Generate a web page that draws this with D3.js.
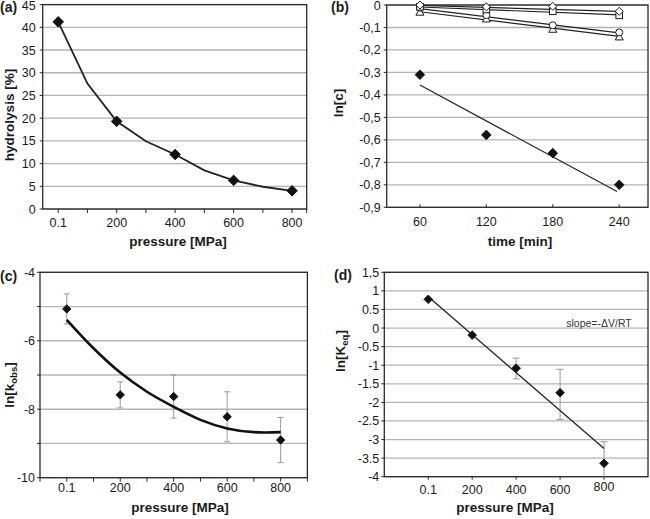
<!DOCTYPE html>
<html><head><meta charset="utf-8">
<script src="https://cdn.jsdelivr.net/npm/d3@7/dist/d3.min.js"></script>
<style>
body{margin:0;background:#fff;}
text{font-family:"Liberation Sans",Arial,sans-serif;}
</style></head>
<body><svg id="c" width="650" height="519"></svg>
<script>
// ---------- data ----------
const pressureTicks = [0, 200, 400, 600, 800];
const pressureLabels = ["0.1", "200", "400", "600", "800"];

// (a) hydrolysis
const aLineP = [0.1, 100, 200, 300, 400, 500, 600, 700, 800];
const aLineV = [41.2, 27.6, 19.3, 14.9, 12.0, 8.5, 6.3, 4.9, 4.0];
const aPointP = [0.1, 200, 400, 600, 800];
const aPointV = [41.2, 19.3, 12.0, 6.3, 4.0];
const aYTicks = [0, 5, 10, 15, 20, 25, 30, 35, 40, 45];

// (b) ln[c] vs time
const bTime = [60, 120, 180, 240];
const bTimeLabels = ["60", "120", "180", "240"];
const bFilled = [-0.31, -0.578, -0.659, -0.80];
const bFilledFitT = [60, 238];
const bFilledFitV = [-0.356, -0.83];
const bOpenDiamond = [0.0, -0.008, -0.006, -0.028];
const bOpenSquare = [-0.008, -0.02, -0.028, -0.046];
const bOpenCircle = [-0.012, -0.045, -0.09, -0.122];
const bOpenTriangle = [-0.032, -0.062, -0.108, -0.142];
const bFitDiamond = [-0.002, -0.028];
const bFitSquare = [-0.009, -0.044];
const bFitCircle = [-0.016, -0.124];
const bFitTriangle = [-0.03, -0.14];
const bYTicks = [0, -0.1, -0.2, -0.3, -0.4, -0.5, -0.6, -0.7, -0.8, -0.9];
const bYLabels = ["0", "-0,1", "-0,2", "-0,3", "-0,4", "-0,5", "-0,6", "-0,7", "-0,8", "-0,9"];

// (c) ln[kobs]
const cP = [0.1, 200, 400, 600, 800];
const cV = [-5.07, -7.58, -7.63, -8.22, -8.9];
const cErr = [0.44, 0.38, 0.63, 0.73, 0.66];
const cCurveP = [0.1, 100, 200, 300, 400, 500, 600, 700, 800];
const cCurveV = [-5.39, -6.22, -6.93, -7.49, -7.93, -8.31, -8.56, -8.67, -8.67];
const cGrid = [-4, -5, -6, -7, -8, -9, -10];
const cYLabels = [-4, -6, -8, -10];

// (d) ln[Keq]
const dP = [0.1, 200, 400, 600, 800];
const dV = [0.773, -0.19, -1.08, -1.74, -3.64];
const dErrUp = [0, 0, 0.27, 0.63, 0.58];
const dErrDown = [0, 0, 0.29, 0.72, 0.58];
const dFitP = [0.1, 800];
const dFitV = [0.84, -3.24];
const dYTicks = [1.5, 1, 0.5, 0, -0.5, -1, -1.5, -2, -2.5, -3, -3.5, -4];
const dYLabels = ["1,5", "1", "0.5", "0", "-0.5", "-1", "-1.5", "-2", "-2.5", "-3", "-3.5", "-4"];

// ---------- drawing ----------
const svg = d3.select("#c");
const GRID = "#b4b4b4", FRAME = "#2a2a2a", INK = "#1a1a1a";

function diamond(g, x, y, r, fill) {
  g.append("path").attr("d", `M${x},${y - r}L${x + r},${y}L${x},${y + r}L${x - r},${y}Z`)
    .attr("fill", fill).attr("stroke", INK).attr("stroke-width", 1);
}

function frame(g, x, y, xTicks, yTicks, opts) {
  const [x0, x1] = x.range(), [y0, y1] = y.range();
  g.selectAll(null).data(opts.grid || yTicks).join("line")
    .attr("x1", x0).attr("x2", x1).attr("y1", d => y(d)).attr("y2", d => y(d))
    .attr("stroke", GRID).attr("stroke-width", 1.3);
  g.append("rect").attr("x", x0).attr("y", y1).attr("width", x1 - x0).attr("height", y0 - y1)
    .attr("fill", "none").attr("stroke", FRAME).attr("stroke-width", 1.3);
  g.selectAll(null).data(opts.grid || yTicks).join("line")
    .attr("x1", x0 - 3).attr("x2", x0).attr("y1", d => y(d)).attr("y2", d => y(d))
    .attr("stroke", FRAME);
  g.selectAll(null).data(yTicks).join("text")
    .attr("x", x0 - opts.yLabelGap).attr("y", d => Math.max(10, y(d) + 4.5))
    .attr("text-anchor", "end").attr("font-size", 12.5).attr("fill", INK)
    .text((d, i) => opts.yLabels ? opts.yLabels[i] : d);
  g.selectAll(null).data(opts.xTickMarks).join("line")
    .attr("x1", d => x(d)).attr("x2", d => x(d)).attr("y1", y0).attr("y2", y0 + opts.xTickLen)
    .attr("stroke", FRAME);
  g.selectAll(null).data(xTicks).join("text")
    .attr("x", d => x(d)).attr("y", (d, i) => y0 + opts.xLabelDy - (opts.xLabelShift ? opts.xLabelShift[i] : 0))
    .attr("text-anchor", "middle").attr("font-size", 12.5).attr("fill", INK)
    .text((d, i) => opts.xLabels[i]);
}

function title(g, tx, ty, text) {
  g.append("text").attr("x", tx).attr("y", ty).attr("text-anchor", "middle")
    .attr("font-size", 13.5).attr("font-weight", "bold").attr("fill", INK).text(text);
}
function ytitle(g, tx, ty, build) {
  const t = g.append("text").attr("transform", `translate(${tx},${ty}) rotate(-90)`)
    .attr("text-anchor", "middle").attr("font-size", 13.5).attr("font-weight", "bold").attr("fill", INK);
  build(t);
}
function panelLabel(x, y, s) {
  svg.append("text").attr("x", x).attr("y", y).attr("font-family", "Liberation Serif, Times New Roman, serif")
    .attr("font-size", 14).attr("font-weight", "bold").attr("fill", INK).text(s);
}

// ----- (a) -----
{
  const g = svg.append("g");
  const x = d3.scaleLinear().domain([-53, 850]).range([42.7, 306.7]);
  const y = d3.scaleLinear().domain([0, 45]).range([209, 4.6]);
  frame(g, x, y, pressureTicks, aYTicks, {
    yLabelGap: 7, xLabels: pressureLabels, xTickMarks: d3.range(0, 801, 100).concat([850]),
    xTickLen: 4, xLabelDy: 18
  });
  g.append("path").datum(aLineP.map((p, i) => [p, aLineV[i]]))
    .attr("d", d3.line().x(d => x(d[0])).y(d => y(d[1])))
    .attr("fill", "none").attr("stroke", "#222").attr("stroke-width", 1.8);
  aPointP.forEach((p, i) => diamond(g, x(p), y(aPointV[i]), 5.3, "#111"));
  title(g, 178, 246, "pressure [MPa]");
  ytitle(g, 14, 115, t => t.text("hydrolysis [%]"));
  panelLabel(0, 12, "(a)");
}

// ----- (b) -----
{
  const g = svg.append("g");
  const x = d3.scaleLinear().domain([30, 266]).range([386.7, 648]);
  const y = d3.scaleLinear().domain([-0.9, 0]).range([207.3, 5]);
  frame(g, x, y, bTime, bYTicks, {
    yLabelGap: 6, yLabels: bYLabels, xLabels: bTimeLabels, xTickMarks: bTime,
    xTickLen: -3, xLabelDy: 19
  });
  const fit = (vals, t) => g.append("path").datum([[t[0], vals[0]], [t[1], vals[1]]])
    .attr("d", d3.line().x(d => x(d[0])).y(d => y(d[1])))
    .attr("fill", "none").attr("stroke", "#222").attr("stroke-width", 1.2);
  fit(bFitDiamond, [60, 240]); fit(bFitSquare, [60, 240]);
  fit(bFitCircle, [60, 240]); fit(bFitTriangle, [60, 240]);
  fit(bFilledFitV, bFilledFitT);
  bTime.forEach((t, i) => {
    const cx = x(t);
    const ty = y(bOpenTriangle[i]);
    g.append("path").attr("d", `M${cx},${ty - 4}L${cx + 4},${ty + 3}L${cx - 4},${ty + 3}Z`)
      .attr("fill", "#fff").attr("stroke", INK).attr("stroke-width", 1);
    g.append("circle").attr("cx", cx).attr("cy", y(bOpenCircle[i])).attr("r", 3.5)
      .attr("fill", "#fff").attr("stroke", INK).attr("stroke-width", 1);
    g.append("rect").attr("x", cx - 3.3).attr("y", y(bOpenSquare[i]) - 3.3).attr("width", 6.6).attr("height", 6.6)
      .attr("fill", "#fff").attr("stroke", INK).attr("stroke-width", 1);
    diamond(g, cx, y(bOpenDiamond[i]), 4, "#fff");
    diamond(g, cx, y(bFilled[i]), 4.8, "#111");
  });
  title(g, 520, 246, "time [min]");
  ytitle(g, 343, 103, t => t.text("ln[c]"));
  panelLabel(331, 12, "(b)");
}

// ----- (c) -----
{
  const g = svg.append("g");
  const x = d3.scaleLinear().domain([-100, 900]).range([40, 307.4]);
  const y = d3.scaleLinear().domain([-10, -4]).range([477.7, 272.3]);
  frame(g, x, y, pressureTicks, cYLabels, {
    grid: cGrid, yLabelGap: 5, xLabels: pressureLabels, xTickMarks: d3.range(-100, 901, 100),
    xTickLen: 4, xLabelDy: 14
  });
  cP.forEach((p, i) => {
    const cx = x(p);
    g.append("line").attr("x1", cx).attr("x2", cx).attr("y1", y(cV[i] + cErr[i])).attr("y2", y(cV[i] - cErr[i]))
      .attr("stroke", "#999").attr("stroke-width", 1);
    [cV[i] + cErr[i], cV[i] - cErr[i]].forEach(v => g.append("line")
      .attr("x1", cx - 3).attr("x2", cx + 3).attr("y1", y(v)).attr("y2", y(v)).attr("stroke", "#999"));
  });
  g.append("path").datum(cCurveP.map((p, i) => [p, cCurveV[i]]))
    .attr("d", d3.line().curve(d3.curveCatmullRom).x(d => x(d[0])).y(d => y(d[1])))
    .attr("fill", "none").attr("stroke", "#111").attr("stroke-width", 2.6);
  cP.forEach((p, i) => diamond(g, x(p), y(cV[i]), 4.2, "#111"));
  title(g, 180, 512, "pressure [MPa]");
  ytitle(g, 14, 385, t => {
    t.append("tspan").text("ln[k");
    t.append("tspan").attr("font-size", 9.5).attr("dy", 3).text("obs");
    t.append("tspan").attr("dy", -3).text("]");
  });
  panelLabel(0, 281, "(c)");
}

// ----- (d) -----
{
  const g = svg.append("g");
  const x = d3.scaleLinear().domain([-200, 1000]).range([384.3, 648]);
  const y = d3.scaleLinear().domain([-4, 1.5]).range([476.7, 272.3]);
  frame(g, x, y, pressureTicks, dYTicks, {
    yLabelGap: 5, yLabels: dYLabels, xLabels: pressureLabels, xTickMarks: [0, 200, 400, 600, 800],
    xTickLen: 3, xLabelDy: 17, xLabelShift: [0, 0, 0, 0, 3]
  });
  dP.forEach((p, i) => {
    if (!dErrUp[i]) return;
    const cx = x(p);
    const top = dV[i] + dErrUp[i], bot = Math.max(-4, dV[i] - dErrDown[i]);
    g.append("line").attr("x1", cx).attr("x2", cx).attr("y1", y(top)).attr("y2", y(bot))
      .attr("stroke", "#999").attr("stroke-width", 1);
    g.append("line").attr("x1", cx - 3.5).attr("x2", cx + 3.5).attr("y1", y(top)).attr("y2", y(top)).attr("stroke", "#999");
    if (bot > -4) g.append("line").attr("x1", cx - 3.5).attr("x2", cx + 3.5).attr("y1", y(bot)).attr("y2", y(bot)).attr("stroke", "#999");
  });
  g.append("path").datum(dFitP.map((p, i) => [p, dFitV[i]]))
    .attr("d", d3.line().x(d => x(d[0])).y(d => y(d[1])))
    .attr("fill", "none").attr("stroke", "#222").attr("stroke-width", 1.3);
  dP.forEach((p, i) => diamond(g, x(p), y(dV[i]), 4.3, "#111"));
  g.append("text").attr("x", 599).attr("y", 327).attr("text-anchor", "middle")
    .attr("font-size", 10.5).attr("fill", "#333").text("slope=-\u0394V/RT");
  title(g, 505, 512, "pressure [MPa]");
  ytitle(g, 345, 351, t => {
    t.append("tspan").text("ln[K");
    t.append("tspan").attr("font-size", 9.5).attr("dy", 3).text("eq");
    t.append("tspan").attr("dy", -3).text("]");
  });
  panelLabel(334, 280, "(d)");
}
</script></body></html>
